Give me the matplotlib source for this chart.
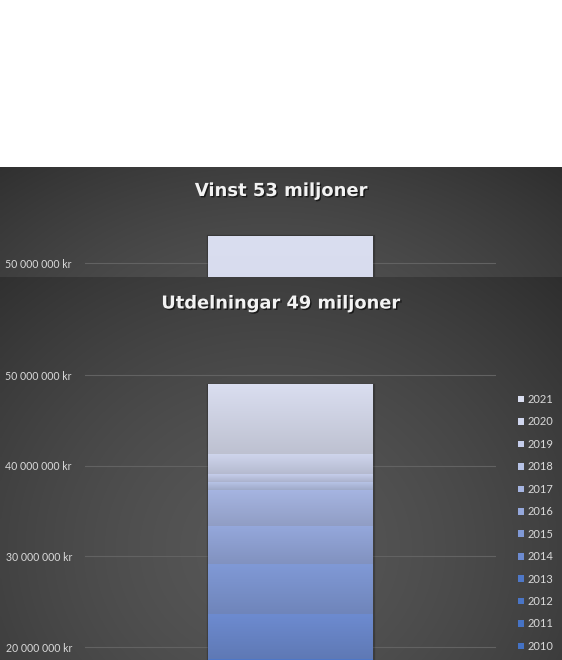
import numpy as np
import matplotlib
matplotlib.use('agg')
import matplotlib.pyplot as plt
import matplotlib.patheffects as pe
from matplotlib.patches import Rectangle
from matplotlib.colors import to_rgb

# chart texts and values
profit_title = 'Vinst 53 miljoner'
profit_value = 53.0e6

dividend_title = 'Utdelningar 49 miljoner'
years = ['2010', '2011', '2012', '2013', '2014', '2015',
         '2016', '2017', '2018', '2019', '2020', '2021']
dividends = [4.59e6, 4.70e6, 4.80e6, 4.60e6, 4.96e6, 5.51e6,
             4.19e6, 3.97e6, 0.88e6, 0.88e6, 2.21e6, 7.61e6]
year_colors = ['#4472C4', '#4673C5', '#4A75C6', '#4F78C8', '#6D8BD0', '#8099D6',
               '#95A8DC', '#A6B5E2', '#B7C3E6', '#C5CDEB', '#D0D6EE', '#DADEF0']
profit_color = '#DADEF0'
y_ticks = [0, 10e6, 20e6, 30e6, 40e6, 50e6]

W, H = 562, 660
PX_PER_UNIT = 9.07e-6   # pixels per krona on the value axis
LABEL_FONT = ['Lato', 'DejaVu Sans']
TITLE_FONT = ['DejaVu Sans']


def fig_rect(x0, y0, x1, y1):
    # pixel box (top-left origin) -> figure fraction rect
    return [x0 / W, 1 - y1 / H, (x1 - x0) / W, (y1 - y0) / H]


def kr_label(v):
    return '{:,.0f} kr'.format(v).replace(',', ' ')


def panel_background(y0, y1, z):
    ax = fig.add_axes(fig_rect(0, y0, W, y1))
    ax.set_zorder(z)
    ny, nx = 200, 200
    yy, xx = np.mgrid[0:1:ny * 1j, 0:1:nx * 1j]
    r = np.sqrt(((xx - 0.48) / 0.78) ** 2 + ((yy - 0.5) / 0.72) ** 2)
    r = np.clip(r, 0, 1) ** 1.5
    inner = np.array(to_rgb('#575757'))
    outer = np.array(to_rgb('#2c2c2c'))
    img = inner[None, None, :] * (1 - r[..., None]) + outer[None, None, :] * r[..., None]
    ax.imshow(img, extent=(0, 1, 0, 1), aspect='auto', interpolation='bilinear')
    ax.set_axis_off()
    return ax


def data_axes(y50, ymax, z, lowest_visible):
    top = y50 - (ymax - 50e6) * PX_PER_UNIT
    bottom = y50 + 50e6 * PX_PER_UNIT
    ax = fig.add_axes(fig_rect(85, top, 496, bottom))
    ax.set_zorder(z)
    ax.patch.set_alpha(0)
    ax.set_ylim(0, ymax)
    ax.set_xlim(-0.5, 0.5)
    # ticks below the picture edge are not shown in the reference
    ticks = [v for v in y_ticks if v >= lowest_visible]
    ax.set_yticks(ticks)
    ax.set_yticklabels([kr_label(v) for v in ticks])
    ax.set_xticks([])
    ax.tick_params(axis='y', length=0, pad=9.4, labelsize=7.6, labelcolor='#D9D9D9')
    for lbl in ax.get_yticklabels():
        lbl.set_fontfamily(LABEL_FONT)
    for s in ax.spines.values():
        s.set_visible(False)
    ax.grid(axis='y', color='#626262', linewidth=0.8)
    ax.set_axisbelow(True)
    return ax


def gradient_bars(ax, values, colors, width=0.401):
    bottoms = np.concatenate([[0], np.cumsum(values)[:-1]])
    total = float(np.sum(values))
    ax.add_patch(Rectangle((-width / 2, 0), width, total, facecolor='none',
                           edgecolor=(0, 0, 0, 0.22), linewidth=2.4, zorder=2))
    bars = ax.bar(0, values, bottom=bottoms, width=width, color=colors, zorder=3)
    for patch, c in zip(bars.patches, colors):
        x, y = patch.get_x(), patch.get_y()
        w, h = patch.get_width(), patch.get_height()
        top_c = np.array(to_rgb(c))
        bot_c = top_c * 0.87
        t = np.linspace(0, 1, 64)[:, None]
        grad = top_c[None, :] * (1 - t) + bot_c[None, :] * t
        ax.imshow(grad[:, None, :], extent=(x, x + w, y, y + h), aspect='auto',
                  interpolation='bilinear', zorder=4)
    ax.set_xlim(-0.5, 0.5)


def panel_title(text, y_base, z, target_width):
    t = fig.text(281 / W, 1 - y_base / H, text, ha='center', va='baseline',
                 fontsize=12, fontweight='bold', color='#F2F2F2',
                 family=TITLE_FONT, zorder=z)
    renderer = fig.canvas.get_renderer()
    w = t.get_window_extent(renderer=renderer).width
    t.set_fontsize(12 * target_width / w)
    t.set_path_effects([pe.withSimplePatchShadow(offset=(1, -1), shadow_rgbFace='black',
                                                 alpha=0.6)])
    return t


fig = plt.figure(figsize=(W / 100, H / 100), dpi=100, facecolor='white')

# profit chart (partly hidden behind the dividends chart)
panel_background(167, 560, 1)
ax1 = data_axes(263, 55e6, 2, 50e6)
gradient_bars(ax1, [profit_value], [profit_color])
ax1.set_ylim(0, 55e6)
panel_title(profit_title, 196, 3, 172)

# dividends chart
panel_background(277, 820, 5)
ax2 = data_axes(375, 50.5e6, 6, 20e6)
gradient_bars(ax2, dividends, year_colors)
ax2.set_ylim(0, 50.5e6)
panel_title(dividend_title, 308.5, 7, 238)

handles = [Rectangle((0, 0), 1, 1, facecolor=c) for c in year_colors[::-1]]
leg = ax2.legend(handles, years[::-1], loc='upper left',
                 bbox_to_anchor=(518 / W, 1 - 394 / H), bbox_transform=fig.transFigure,
                 frameon=False, fontsize=8, labelcolor='#D9D9D9',
                 handlelength=0.55, handleheight=0.55, handletextpad=0.3,
                 labelspacing=1.03, borderaxespad=0, borderpad=0)
for txt in leg.get_texts():
    txt.set_fontfamily(LABEL_FONT)

fig.savefig('out.png', dpi=100, facecolor='white')
